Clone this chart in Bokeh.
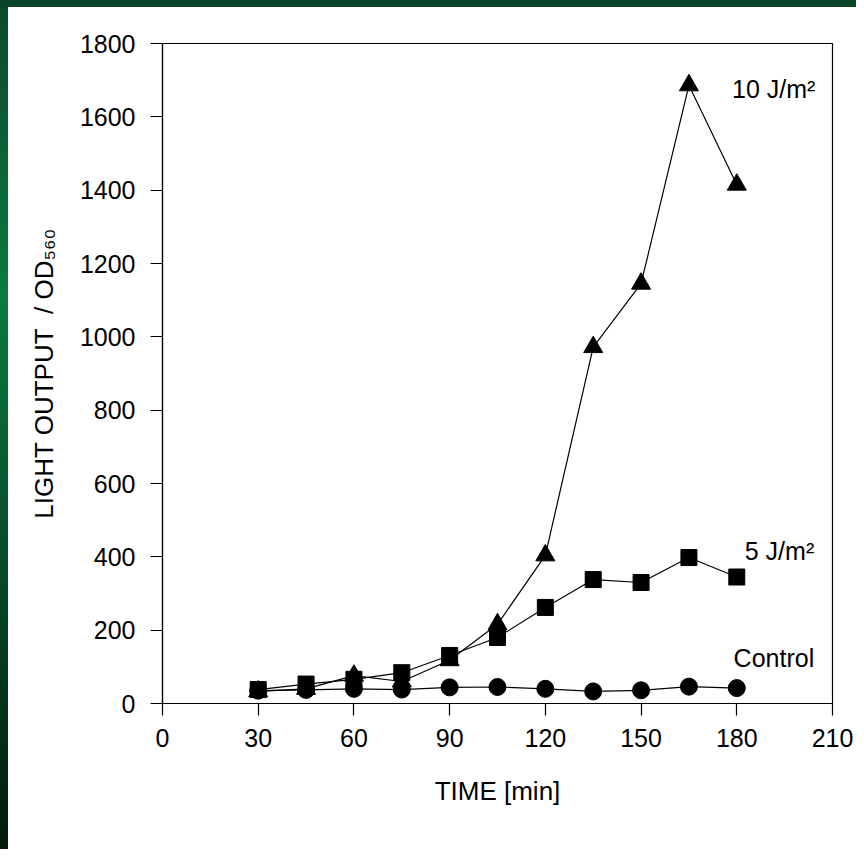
from bokeh.plotting import figure
from bokeh.models import Range1d, FixedTicker, ColumnDataSource
from bokeh.core.properties import value
from bokeh.embed import file_html
from bokeh.resources import INLINE

# ---- data ----
time_min = [30, 45, 60, 75, 90, 105, 120, 135, 150, 165, 180]
dose10 = [33, 40, 76, 60, 118, 216, 404, 972, 1145, 1686, 1415]
dose5 = [38, 53, 66, 84, 131, 180, 262, 338, 330, 398, 345]
control = [35, 37, 40, 38, 44, 45, 40, 33, 36, 46, 42]

x_ticks = [0, 30, 60, 90, 120, 150, 180, 210]
y_ticks = [0, 200, 400, 600, 800, 1000, 1200, 1400, 1600, 1800]

series_names = ["10 J/m²", "5 J/m²", "Control"]
label_x = [178.5, 182.5, 179.0]
label_y = [1677, 417, 125]

FONT = "Liberation Sans"

p = figure(width=856, height=849, output_backend="svg", toolbar_location=None,
           x_range=Range1d(0, 210), y_range=Range1d(0, 1800),
           min_border_left=162, min_border_right=24,
           min_border_top=43, min_border_bottom=146)

p.background_fill_color = "white"
p.border_fill_color = None
p.styles = {
    "background": ("linear-gradient(#0a4527, #0a4527) left top / 100% 7px no-repeat, "
                   "linear-gradient(to bottom, #0a4a2a 0%, #0b7a41 35%, #06552c 60%, #021a0c 100%) "
                   "left top / 8px 100% no-repeat, #ffffff"),
}
p.outline_line_color = "black"
p.outline_line_width = 1.2
p.grid.visible = False

for ax in (p.xaxis[0], p.yaxis[0]):
    ax.axis_line_color = "black"
    ax.axis_line_width = 1.2
    ax.major_tick_line_color = "black"
    ax.major_tick_line_width = 1.2
    ax.major_tick_in = 0
    ax.major_tick_out = 12
    ax.minor_tick_line_color = None
    ax.major_label_text_font = FONT
    ax.major_label_text_font_size = "25px"
    ax.major_label_text_color = "black"
    ax.axis_label_text_font = FONT
    ax.axis_label_text_font_size = "26px"
    ax.axis_label_text_font_style = "normal"
    ax.axis_label_text_color = "black"

p.xaxis.ticker = FixedTicker(ticks=x_ticks)
p.yaxis.ticker = FixedTicker(ticks=y_ticks)
p.xaxis.major_label_standoff = 13
p.yaxis.major_label_standoff = 15
p.xaxis.axis_label = "TIME [min]"
p.yaxis.axis_label = "LIGHT OUTPUT\u00a0 / OD\u2085\u2086\u2080"
p.xaxis.axis_label_standoff = 26
p.yaxis.axis_label_standoff = 18

src = ColumnDataSource(dict(t=time_min, d10=dose10, d5=dose5, c=control))

p.line("t", "d10", source=src, line_color="black", line_width=1.2)
p.line("t", "d5", source=src, line_color="black", line_width=1.2)
p.line("t", "c", source=src, line_color="black", line_width=1.2)

p.scatter("t", "d10", source=src, marker="triangle", size=19, color="black")
p.scatter("t", "d5", source=src, marker="square", size=16, color="black")
p.scatter("t", "c", source=src, marker="circle", size=17, color="black")

lab = ColumnDataSource(dict(x=label_x, y=label_y, text=series_names))
p.text("x", "y", text="text", source=lab, text_font=value(FONT),
       text_font_size="25px", text_color="black",
       text_align="left", text_baseline="alphabetic")

open("out.html", "w").write(file_html(p, INLINE))
